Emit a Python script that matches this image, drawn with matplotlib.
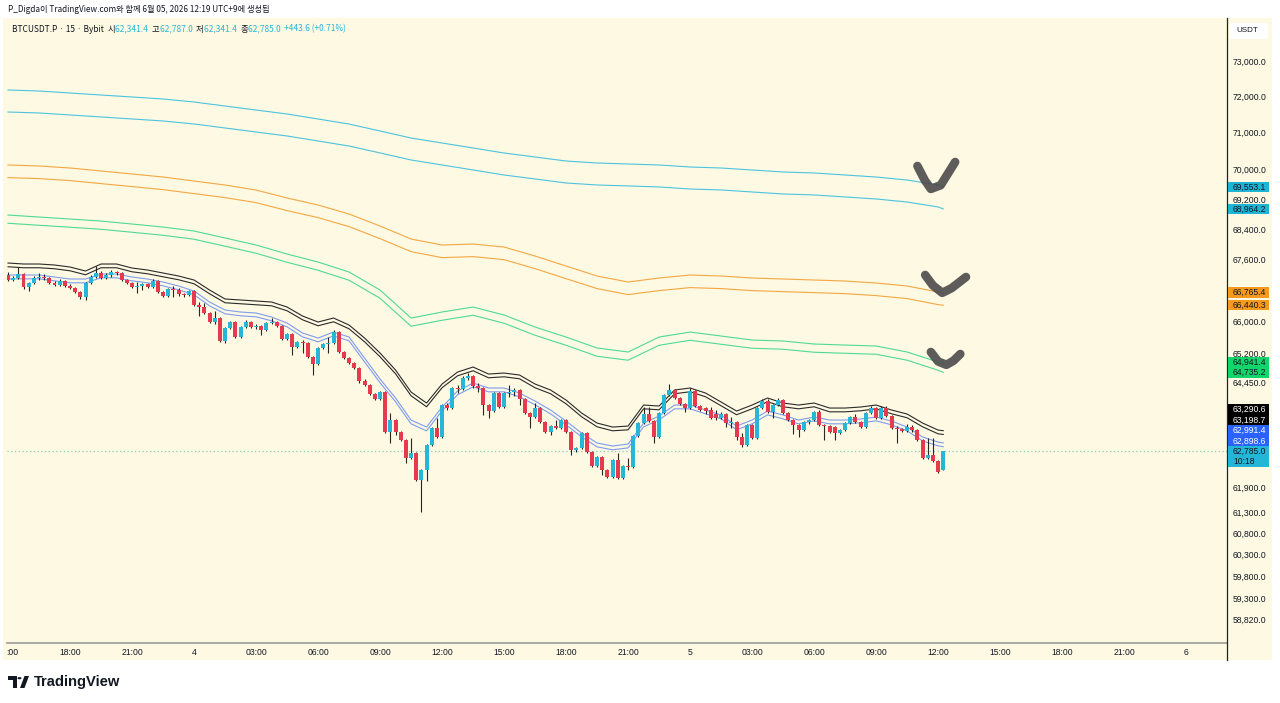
"""BTCUSDT.P 15m chart with MA envelope bands, TradingView style."""

import matplotlib

matplotlib.use("Agg")
import matplotlib.pyplot as plt
import numpy as np
from matplotlib.lines import Line2D
from matplotlib.offsetbox import AnchoredOffsetbox, HPacker, TextArea
from matplotlib.patches import Circle, FancyBboxPatch, Polygon, Rectangle
from matplotlib.ticker import NullFormatter, NullLocator
from matplotlib.transforms import blended_transform_factory

# ---------------------------------------------------------------- data
OPEN = [
    67222, 67092, 67144, 67248, 66911, 67014, 67144, 67170, 67144, 67014,
    66962, 67066, 66937, 66885, 66781, 66652, 67014, 67170, 67274, 67144,
    67222, 67300, 67274, 67092, 67014, 66911, 66937, 66988, 66911, 67066,
    66781, 66678, 66859, 66833, 66730, 66704, 66807, 66446, 66394, 66240,
    66010, 66112, 65526, 65856, 66010, 65627, 65882, 66010, 65882, 65907,
    65805, 65984, 66010, 65907, 65576, 65703, 65374, 65500, 65475, 65122,
    64945, 65349, 65450, 65475, 65754, 65248, 65096, 64970, 64844, 64519,
    64420, 64195, 64071, 64245, 63257, 63552, 63257, 63062, 62624, 62745,
    62093, 62334, 62940, 63355, 63135, 63922, 63848, 64345, 64320, 64594,
    64644, 64395, 64345, 63922, 63774, 64220, 63873, 64220, 64245, 64295,
    64071, 63725, 63626, 63848, 63503, 63257, 63404, 63355, 63552, 63257,
    62818, 62867, 63233, 62769, 62430, 62648, 62334, 62165, 62575, 62141,
    62430, 62406, 63160, 63478, 63700, 63527, 63135, 63725, 64171, 64295,
    64096, 63947, 63848, 64270, 63898, 63848, 63799, 63700, 63601, 63700,
    63478, 63503, 63135, 62940, 63429, 63111, 63848, 64021, 63750, 63922,
    64046, 63725, 63552, 63429, 63306, 63503, 63552, 63750, 63429, 63404,
    63380, 63233, 63306, 63478, 63626, 63503, 63380, 63725, 63848, 63601,
    63848, 63651, 63355, 63331, 63282, 63380, 63306, 63062, 62624, 62697,
    62551, 62341.4,
]
HIGH = [
    67300, 67196, 67430, 67274, 67040, 67196, 67274, 67248, 67170, 67066,
    67118, 67092, 66988, 66911, 66807, 67040, 67222, 67456, 67326, 67274,
    67352, 67326, 67300, 67118, 67040, 67040, 67014, 67014, 67118, 67092,
    66807, 66885, 66937, 66885, 66756, 66833, 66833, 66523, 66498, 66266,
    66291, 66138, 65882, 66035, 66035, 65907, 66061, 66035, 65959, 65933,
    66010, 66112, 66035, 65933, 65729, 65729, 65526, 65551, 65500, 65147,
    65374, 65475, 65627, 65805, 65780, 65273, 65122, 64996, 64870, 64569,
    64444, 64220, 64270, 64270, 63725, 63577, 63282, 63086, 63111, 62769,
    62358, 62964, 63380, 63601, 63947, 63972, 64370, 64420, 64644, 64719,
    64669, 64469, 64370, 63947, 64245, 64245, 64245, 64420, 64345, 64320,
    64096, 63750, 63972, 63873, 63527, 63429, 63552, 63577, 63577, 63282,
    62891, 63257, 63257, 62794, 62672, 62672, 62358, 62599, 62745, 62455,
    62624, 63184, 63503, 63873, 63873, 63552, 63750, 64195, 64444, 64320,
    64121, 63972, 64345, 64295, 63922, 63873, 63873, 63799, 63750, 63725,
    63626, 63527, 63233, 63454, 63454, 63873, 64071, 64071, 63947, 64096,
    64071, 63750, 63577, 63454, 63527, 63577, 63774, 63799, 63454, 63429,
    63404, 63331, 63503, 63651, 63700, 63527, 63750, 63898, 63873, 63898,
    63898, 63676, 63404, 63355, 63454, 63429, 63331, 63086, 63111, 63111,
    62575, 62787.0,
]
LOW = [
    67066, 67066, 67118, 66859, 66807, 66988, 67092, 67092, 66988, 66937,
    66937, 66911, 66859, 66756, 66601, 66575, 66988, 67144, 67118, 67118,
    67170, 67222, 67066, 66988, 66885, 66756, 66833, 66885, 66885, 66756,
    66652, 66652, 66652, 66678, 66652, 66678, 66420, 66163, 66215, 65984,
    65959, 65500, 65475, 65831, 65602, 65602, 65856, 65856, 65831, 65678,
    65780, 65959, 65882, 65551, 65551, 65172, 65349, 65222, 65096, 64669,
    64920, 65323, 65222, 65450, 65222, 65071, 64945, 64819, 64469, 64395,
    64171, 64046, 64046, 63233, 62989, 63184, 63038, 62503, 62599, 62069,
    61329, 62069, 62916, 63111, 63111, 63799, 63824, 64220, 64295, 64544,
    64345, 64245, 63676, 63601, 63750, 63848, 63848, 64121, 64146, 63922,
    63700, 63355, 63601, 63478, 63233, 63184, 63331, 63331, 63233, 62697,
    62769, 62842, 62745, 62406, 62406, 62214, 62141, 62141, 62117, 62117,
    62334, 62382, 63135, 63454, 63503, 62989, 63111, 63700, 64146, 64071,
    63922, 63750, 63824, 63873, 63774, 63700, 63577, 63552, 63577, 63380,
    63355, 63062, 62891, 62916, 63086, 63086, 63824, 63725, 63601, 63898,
    63700, 63527, 63208, 63135, 63282, 63454, 63527, 63404, 63062, 63233,
    63062, 63208, 63282, 63454, 63478, 63355, 63355, 63700, 63577, 63577,
    63626, 63331, 62989, 63257, 63257, 63257, 63038, 62599, 62599, 62527,
    62262, 62341.4,
]
CLOSE = [
    67092, 67144, 67248, 66911, 67014, 67144, 67170, 67144, 67014, 66962,
    67066, 66937, 66885, 66781, 66652, 67014, 67170, 67274, 67144, 67222,
    67300, 67274, 67092, 67014, 66911, 66937, 66988, 66911, 67066, 66781,
    66678, 66859, 66833, 66730, 66704, 66807, 66446, 66394, 66240, 66010,
    66112, 65526, 65856, 66010, 65627, 65882, 66010, 65882, 65907, 65805,
    65984, 66010, 65907, 65576, 65703, 65374, 65500, 65475, 65122, 64945,
    65349, 65450, 65475, 65754, 65248, 65096, 64970, 64844, 64519, 64420,
    64195, 64071, 64245, 63257, 63552, 63257, 63062, 62624, 62745, 62093,
    62334, 62940, 63355, 63135, 63922, 63848, 64345, 64320, 64594, 64644,
    64395, 64345, 63922, 63774, 64220, 63873, 64220, 64245, 64295, 64071,
    63725, 63626, 63848, 63503, 63257, 63404, 63355, 63552, 63257, 62818,
    62867, 63233, 62769, 62430, 62648, 62334, 62165, 62575, 62141, 62430,
    62406, 63160, 63478, 63700, 63527, 63135, 63725, 64171, 64295, 64096,
    63947, 63848, 64270, 63898, 63799, 63774, 63601, 63601, 63700, 63478,
    63503, 63135, 62940, 63429, 63111, 63848, 64021, 63750, 63922, 64046,
    63725, 63552, 63429, 63306, 63503, 63552, 63750, 63429, 63404, 63257,
    63233, 63306, 63478, 63626, 63503, 63380, 63725, 63848, 63601, 63848,
    63651, 63355, 63331, 63282, 63380, 63306, 63062, 62624, 62697, 62551,
    62286, 62785.0,
]

# fast bands sampled every 3 bars, slow bands every 6 bars (bar index)
FAST_IDX = list(range(0, 181, 3)) + [181]
SLOW_IDX = list(range(0, 181, 6)) + [181]

BLACK_UP = [
    67535, 67509, 67509, 67483, 67430, 67326, 67509, 67509, 67404, 67352,
    67274, 67196, 67092, 66833, 66601, 66575, 66549, 66523, 66394, 66163,
    66010, 66112, 65933, 65602, 65222, 64794, 64245, 63972, 64444, 64744,
    64870, 64694, 64719, 64669, 64444, 64295, 64046, 63725, 63478, 63380,
    63404, 63922, 63898, 64295, 64345, 64220, 63997, 63774, 63922, 64096,
    63972, 63922, 63972, 63848, 63848, 63873, 63922, 63799, 63700, 63478,
    63306, 63290.6,
]
BLACK_LO = [
    67437, 67411, 67411, 67385, 67332, 67228, 67411, 67411, 67306, 67254,
    67176, 67099, 66995, 66736, 66504, 66478, 66452, 66426, 66298, 66067,
    65914, 66016, 65837, 65507, 65127, 64700, 64152, 63879, 64351, 64650,
    64776, 64600, 64625, 64575, 64351, 64202, 63953, 63633, 63386, 63288,
    63312, 63829, 63805, 64202, 64252, 64127, 63904, 63682, 63829, 64003,
    63879, 63829, 63879, 63755, 63755, 63780, 63829, 63706, 63608, 63386,
    63214, 63198.7,
]
BLUE_UP = [
    67222, 67222, 67222, 67170, 67118, 67118, 67248, 67248, 67170, 67118,
    67040, 66937, 66807, 66523, 66317, 66266, 66240, 66138, 65984, 65729,
    65602, 65754, 65627, 65096, 64569, 64096, 63552, 63380, 63873, 64270,
    64469, 64345, 64345, 64220, 64021, 63799, 63527, 63233, 62989, 62916,
    62964, 63478, 63651, 63922, 63922, 63799, 63676, 63404, 63552, 63774,
    63676, 63552, 63626, 63552, 63552, 63577, 63626, 63527, 63380, 63135,
    63013, 62991.4,
]
BLUE_LO = [
    67123, 67123, 67123, 67071, 67019, 67019, 67149, 67149, 67071, 67019,
    66941, 66839, 66709, 66425, 66220, 66169, 66143, 66041, 65887, 65632,
    65506, 65657, 65531, 65000, 64474, 64002, 63459, 63287, 63779, 64176,
    64374, 64250, 64250, 64126, 63927, 63705, 63434, 63140, 62896, 62824,
    62871, 63385, 63557, 63828, 63828, 63705, 63582, 63311, 63459, 63680,
    63582, 63459, 63532, 63459, 63459, 63484, 63532, 63434, 63287, 63042,
    62920, 62898.6,
]
GREEN_UP = [
    68801, 68748, 68695, 68641, 68562, 68482, 68377, 68192, 68007, 67770,
    67561, 67300, 66833, 66112, 66266, 66394, 66189, 65882, 65627, 65349,
    65248, 65627, 65754, 65653, 65551, 65526, 65450, 65424, 65399, 65248,
    64996, 64941.4,
]
GREEN_LO = [
    68582, 68529, 68477, 68423, 68344, 68264, 68160, 67975, 67791, 67554,
    67346, 67086, 66620, 65902, 66055, 66183, 65979, 65672, 65418, 65141,
    65041, 65418, 65545, 65444, 65343, 65318, 65242, 65216, 65191, 65041,
    64789, 64735.2,
]
ORANGE_UP = [
    70147, 70120, 70065, 69984, 69903, 69821, 69713, 69605, 69471, 69256,
    69069, 68828, 68509, 68165, 68007, 68033, 67954, 67718, 67456, 67196,
    67040, 67144, 67222, 67196, 67144, 67118, 67092, 67066, 67014, 66937,
    66781, 66765.4,
]
ORANGE_LO = [
    69805, 69779, 69724, 69643, 69563, 69481, 69374, 69266, 69133, 68919,
    68733, 68493, 68175, 67833, 67676, 67702, 67623, 67388, 67127, 66869,
    66714, 66817, 66895, 66869, 66817, 66791, 66765, 66739, 66688, 66611,
    66456, 66440.3,
]
CYAN_UP = [
    72213, 72185, 72129, 72073, 72018, 71962, 71878, 71767, 71656, 71545,
    71407, 71268, 71076, 70883, 70746, 70610, 70473, 70364, 70255, 70201,
    70174, 70147, 70092, 70065, 70011, 69957, 69930, 69876, 69821, 69740,
    69606, 69553.1,
]
CYAN_LO = [
    71601, 71574, 71518, 71463, 71408, 71352, 71269, 71159, 71049, 70939,
    70802, 70664, 70474, 70283, 70147, 70012, 69876, 69768, 69660, 69606,
    69580, 69553, 69498, 69472, 69418, 69364, 69338, 69284, 69230, 69149,
    69016, 68964.2,
]

PRICE_TICKS = [73000, 72000, 71000, 70000, 69200, 68400, 67600, 66000, 65200,
               64450, 61900, 61300, 60800, 60300, 59800, 59300, 58820]
# first label is shown cut off at the chart edge in the source
TIME_LABELS = [":00", "18:00", "21:00", "4", "03:00", "06:00", "09:00", "12:00",
               "15:00", "18:00", "21:00", "5", "03:00", "06:00", "09:00", "12:00",
               "15:00", "18:00", "21:00", "6"]
BARS_PER_LABEL = 12
COUNTDOWN = "10:18"

HEADER = "P_Digda이 TradingView.com와 함께 6월 05, 2026 12:19 UTC+9에 생성됨"
SYMBOL = "BTCUSDT.P · 15 · Bybit  "

# hand-drawn check marks: (bar index, price) vertices
CHECKS = [
    [(176.0, 70120), (177.4, 69740), (178.6, 69500), (180.5, 69600), (183.3, 70228)],
    [(177.5, 67222), (179.0, 66950), (180.8, 66760), (182.6, 66880), (185.4, 67170)],
    [(178.6, 65248), (180.0, 65010), (181.6, 64925), (183.0, 65030), (184.3, 65197)],
]

# ---------------------------------------------------------------- style
CREAM = "#fdf9e3"
TXT = "#131722"
UP = "#27b7d6"
DOWN = "#e63a4e"
WICK = "#262626"
C_CYAN = "#4cc3df"
C_ORANGE = "#f5a742"
C_GREEN = "#4fdb8f"
C_BLACK = "#2b2b2b"
C_BLUE = "#7f9cf0"

W, H = 1280, 703
BAR_PX = 5.167
PLOT_L, PLOT_R, PLOT_T, PLOT_B = 7, 1227, 18, 643

plt.rcParams["font.family"] = ["Liberation Sans", "DejaVu Sans"]
CJK = ["Noto Sans CJK KR", "DejaVu Sans"]


def fx(px):
    return px / W


def fy(py):
    return 1 - py / H


def fmt(v):
    return f"{v:,.1f}"


fig = plt.figure(figsize=(W / 100, H / 100), dpi=100, facecolor="white")
fig.add_artist(Rectangle((fx(3), fy(660)), fx(1272) - fx(3), fy(18) - fy(660),
                         transform=fig.transFigure, facecolor=CREAM,
                         edgecolor="none", zorder=0))

ax = fig.add_axes([fx(PLOT_L), fy(PLOT_B), fx(PLOT_R) - fx(PLOT_L), fy(PLOT_T) - fy(PLOT_B)])
ax.set_facecolor(CREAM)
ax.set_yscale("log")
ax.set_ylim(58297, 74254)
x0 = -0.2
x1 = x0 + (PLOT_R - PLOT_L) / BAR_PX
ax.set_xlim(x0, x1)
ax.xaxis.set_major_locator(NullLocator())
ax.yaxis.set_major_locator(NullLocator())
ax.yaxis.set_minor_locator(NullLocator())
ax.yaxis.set_minor_formatter(NullFormatter())
for side in ("top", "left", "right"):
    ax.spines[side].set_visible(False)
ax.spines["bottom"].set_color("#9a9a9a")
ax.spines["bottom"].set_linewidth(1.2)

# bands
fast = np.array(FAST_IDX)
slow = np.array(SLOW_IDX)
for vals, color in [(CYAN_UP, C_CYAN), (CYAN_LO, C_CYAN),
                    (ORANGE_UP, C_ORANGE), (ORANGE_LO, C_ORANGE),
                    (GREEN_UP, C_GREEN), (GREEN_LO, C_GREEN)]:
    ax.plot(slow, vals, color=color, lw=0.8, zorder=2)
for vals, color in [(BLACK_UP, C_BLACK), (BLACK_LO, C_BLACK),
                    (BLUE_UP, C_BLUE), (BLUE_LO, C_BLUE)]:
    ax.plot(fast, vals, color=color, lw=0.8, zorder=2)

# current price line
ax.axhline(CLOSE[-1], color="#86cdb6", lw=0.9, ls=(0, (1, 2)), zorder=1)

# candles
o = np.array(OPEN)
h = np.array(HIGH)
lo = np.array(LOW)
c = np.array(CLOSE)
idx = np.arange(len(c))
colors = np.where(c >= o, UP, DOWN)
ax.vlines(idx, lo, h, color=WICK, lw=0.8, zorder=3)
ax.bar(idx, np.abs(c - o), bottom=np.minimum(o, c), width=0.76,
       color=colors, linewidth=0, zorder=4)

# check marks
for pts in CHECKS:
    xs, ys = zip(*pts)
    ax.plot(xs, ys, color="#4b4b4b", lw=6.2, alpha=0.9, solid_capstyle="round",
            solid_joinstyle="round", zorder=6, clip_on=False)

# right price axis
fig.add_artist(Line2D([fx(PLOT_R), fx(PLOT_R)], [fy(18), fy(660)],
                      transform=fig.transFigure, color="#222222", lw=0.9))
ytrans = blended_transform_factory(ax.transAxes, ax.transData)
label_x = 1 + 6 / (PLOT_R - PLOT_L)
for p in PRICE_TICKS:
    ax.text(label_x, p, fmt(p), transform=ytrans, ha="left", va="center",
            fontsize=6.2, color=TXT, clip_on=False)

fig.add_artist(FancyBboxPatch((fx(1229), fy(39)), fx(1268) - fx(1229), fy(23) - fy(39),
                              boxstyle="round,pad=0,rounding_size=0.002",
                              transform=fig.transFigure, facecolor="white",
                              edgecolor="none"))
fig.text(fx(1236), fy(31), "USDT", fontsize=5.8, color=TXT, va="center", ha="left")

# price badges, stacked upward from the current price so they never overlap
BADGE_H = 10.5
badges = [
    (CLOSE[-1], "#24b6d6", TXT, True),
    (BLUE_LO[-1], "#2962ff", "white", False),
    (BLUE_UP[-1], "#2962ff", "white", False),
    (BLACK_LO[-1], "#000000", "white", False),
    (BLACK_UP[-1], "#000000", "white", False),
    (GREEN_LO[-1], "#12d66c", TXT, False),
    (GREEN_UP[-1], "#12d66c", TXT, False),
    (ORANGE_LO[-1], "#f59a1d", TXT, False),
    (ORANGE_UP[-1], "#f59a1d", TXT, False),
    (CYAN_LO[-1], "#1fb3d6", TXT, False),
    (CYAN_UP[-1], "#1fb3d6", TXT, False),
]
prev_top = None
for value, bg, fg, current in badges:
    yc = H - ax.transData.transform((0, value))[1]
    if prev_top is not None:
        yc = min(yc, prev_top - BADGE_H / 2)
    top = yc - BADGE_H / 2
    height = BADGE_H * 2 if current else BADGE_H
    fig.add_artist(Rectangle((fx(1228), fy(top + height)), fx(1269) - fx(1228),
                             height / H, transform=fig.transFigure,
                             facecolor=bg, edgecolor="none", zorder=5))
    fig.text(fx(1233), fy(yc), fmt(value), fontsize=6.2, color=fg,
             va="center", ha="left", zorder=6)
    if current:
        fig.text(fx(1233), fy(yc + BADGE_H), COUNTDOWN, fontsize=6.2, color=fg,
                 va="center", ha="left", zorder=6)
    prev_top = top

# time axis
ax_t = fig.add_axes([fx(4), fy(660), fx(PLOT_R) - fx(4), fy(PLOT_B) - fy(660)])
ax_t.set_xlim(x0 - (PLOT_L - 4) / BAR_PX, x1)
ax_t.set_ylim(0, 1)
ax_t.axis("off")
for k, lab in enumerate(TIME_LABELS):
    ax_t.text(k * BARS_PER_LABEL + (0.9 if k == 0 else 0), 0.45, lab,
              ha="center", va="center", fontsize=6.2, color=TXT)

# header and legend
fig.text(fx(8), fy(9), HEADER, fontsize=5.9, color=TXT, va="center",
         ha="left", family=CJK)

parts = [(SYMBOL, TXT), ("시", TXT), (fmt(OPEN[-1]) + "  ", UP),
         ("고", TXT), (fmt(HIGH[-1]) + "  ", UP),
         ("저", TXT), (fmt(LOW[-1]) + "  ", UP),
         ("종", TXT), (fmt(CLOSE[-1]) + "  ", UP)]
chg = CLOSE[-1] - OPEN[-1]
parts.append((f"+{chg:,.1f} (+{chg / OPEN[-1] * 100:.2f}%)", UP))
boxes = [TextArea(s, textprops=dict(color=col, fontsize=6.0, family=CJK))
         for s, col in parts]
pack = HPacker(children=boxes, align="baseline", pad=0, sep=0)
fig.add_artist(AnchoredOffsetbox(loc="center left", child=pack, pad=0, borderpad=0,
                                 frameon=False, bbox_to_anchor=(fx(12), fy(29)),
                                 bbox_transform=fig.transFigure))

# TradingView logo
logo = [
    [(8, 676), (17, 676), (17, 688), (13, 688), (13, 680), (8, 680)],
    [(20, 688), (24.5, 688), (29, 676), (24.5, 676)],
]
for xy in logo:
    fig.add_artist(Polygon([(fx(a), fy(b)) for a, b in xy], closed=True,
                           transform=fig.transFigure, facecolor=TXT, edgecolor="none"))
fig.add_artist(Circle((fx(19.5), fy(678.2)), 2.0 / W, transform=fig.transFigure,
                      facecolor=TXT, edgecolor="none"))
fig.text(fx(34), fy(682), "TradingView", fontsize=10.6, fontweight="bold",
         color=TXT, va="center", ha="left")

fig.savefig("out.png", dpi=100, facecolor="white")
